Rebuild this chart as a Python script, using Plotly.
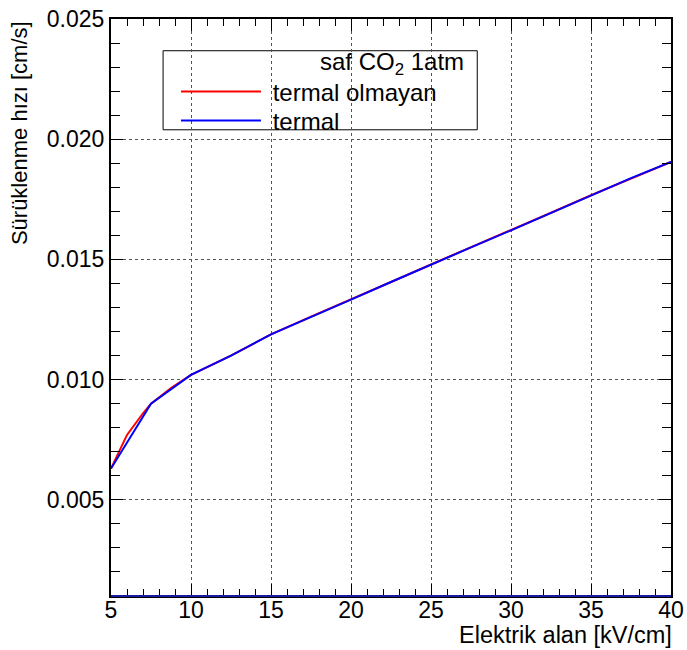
import plotly.graph_objects as go

# Data
field_nonthermal = [5, 6, 7, 7.5, 8.75, 10, 12.5, 15, 17.5, 20, 22.5, 25, 27.5, 30, 32.5, 35, 37.5, 40]
drift_nonthermal = [0.0063, 0.0077, 0.0086, 0.0090, 0.00965, 0.0102, 0.0110, 0.01188, 0.01262, 0.01333,
                    0.01406, 0.01479, 0.0155, 0.01621, 0.01694, 0.01767, 0.01838, 0.01906]
field_thermal = [5, 7.5, 10, 12.5, 15, 17.5, 20, 22.5, 25, 27.5, 30, 32.5, 35, 37.5, 40]
drift_thermal = [0.0063, 0.0090, 0.0102, 0.0110, 0.01188, 0.01262, 0.01333,
                 0.01406, 0.01479, 0.0155, 0.01621, 0.01694, 0.01767, 0.01838, 0.01906]

series_names = ["termal olmayan", "termal"]
legend_header = "saf CO<sub>2</sub> 1atm"
x_title = "Elektrik alan [kV/cm]"
y_title = "Sürüklenme hızı [cm/s]"
x_ticks = [5, 10, 15, 20, 25, 30, 35, 40]
y_ticks = [0.005, 0.010, 0.015, 0.020, 0.025]
y_tick_labels = ["0.005", "0.010", "0.015", "0.020", "0.025"]

FONT = "Liberation Sans, Arial, Helvetica, sans-serif"
NBSP = "\u00a0"

fig = go.Figure()
fig.add_trace(go.Scatter(x=field_nonthermal, y=drift_nonthermal, mode="lines",
                         line=dict(color="#ff0000", width=2), name=NBSP + series_names[0],
                         legend="legend"))
fig.add_trace(go.Scatter(x=field_thermal, y=drift_thermal, mode="lines",
                         line=dict(color="#0000ff", width=2), name=NBSP + series_names[1],
                         legend="legend2"))

axis_common = dict(
    showline=True, linecolor="black", linewidth=2, mirror="allticks",
    ticks="inside", tickcolor="black", tickwidth=1, automargin=False,
    showgrid=True, gridcolor="#555555", griddash="dot", gridwidth=1,
    zeroline=False,
)

fig.update_xaxes(range=[5, 40], tickvals=x_ticks, ticklen=12, ticklabelstandoff=-8,
                 tickfont=dict(family=FONT, size=23, color="black"),
                 minor=dict(dtick=1, ticklen=7, ticks="inside", tickcolor="black", showgrid=False),
                 **axis_common)
fig.update_yaxes(range=[0.001, 0.025], tickvals=y_ticks, ticktext=y_tick_labels, ticklen=12,
                 tickfont=dict(family=FONT, size=23, color="black"),
                 minor=dict(dtick=0.001, ticklen=9, ticks="inside", tickcolor="black", showgrid=False),
                 **axis_common)

legend_style = dict(
    xanchor="left", yanchor="top", bgcolor="rgba(0,0,0,0)", borderwidth=0,
    font=dict(family=FONT, size=24, color="black"), itemwidth=80,
)

fig.update_layout(
    width=687, height=650,
    margin=dict(l=111, r=16, t=19, b=54),
    paper_bgcolor="white", plot_bgcolor="white",
    font=dict(family=FONT, color="black"),
    showlegend=True,
    legend=dict(x=0.116, y=0.9125, **legend_style),
    legend2=dict(x=0.116, y=0.8622, **legend_style),
    shapes=[
        dict(type="rect", xref="paper", yref="paper", x0=0.093, x1=0.654, y0=0.808, y1=0.945,
             line=dict(color="black", width=1), fillcolor="white", layer="below"),
        dict(type="line", xref="paper", yref="paper", x0=0, x1=1, y0=0, y1=0,
             line=dict(color="#1a1aa0", width=2)),
    ],
    annotations=[
        dict(text=legend_header, xref="paper", yref="paper", x=0.634, y=0.9237,
             xanchor="right", yanchor="middle", showarrow=False,
             font=dict(family=FONT, size=24, color="black")),
        dict(text=x_title, xref="paper", yref="paper", x=1.0054, y=-0.042,
             xanchor="right", yanchor="top", showarrow=False,
             font=dict(family=FONT, size=23.5, color="black")),
        dict(text=y_title, xref="paper", yref="paper", x=-0.19, y=1.0,
             xanchor="left", yanchor="top", textangle=-90, showarrow=False,
             font=dict(family=FONT, size=22, color="black")),
    ],
)

fig.write_html("out.html")
